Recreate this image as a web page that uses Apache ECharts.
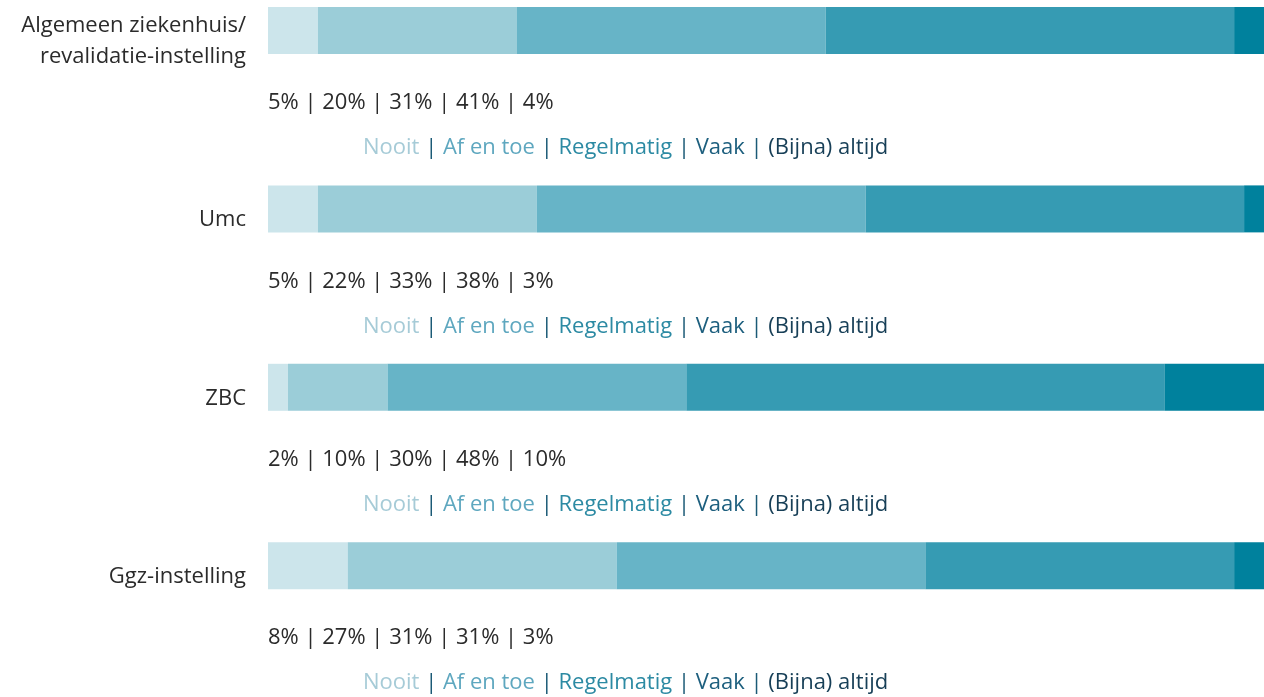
<!DOCTYPE html>
<html lang="nl">
<head>
    <meta charset="UTF-8">
    <title>Frequentie per type instelling</title>
    <script src="https://cdn.jsdelivr.net/npm/echarts@6/dist/echarts.min.js"></script>
    <style>
        body { margin: 0; background: #fff; }
        #chart { width: 1264px; height: 697px; }
    </style>
</head>
<body>
    <div id="chart"></div>
    <script>
        // data
        const rows = ['Algemeen ziekenhuis/\nrevalidatie-instelling', 'Umc', 'ZBC', 'Ggz-instelling'];
        const answers = ['Nooit', 'Af en toe', 'Regelmatig', 'Vaak', '(Bijna) altijd'];
        const nooit = [5, 5, 2, 8];
        const afEnToe = [20, 22, 10, 27];
        const regelmatig = [31, 33, 30, 31];
        const vaak = [41, 38, 48, 31];
        const bijnaAltijd = [4, 3, 10, 3];
        const values = [nooit, afEnToe, regelmatig, vaak, bijnaAltijd];

        const barColors = ['#cce5eb', '#9bcdd8', '#67b4c7', '#369bb3', '#00819d'];
        const textColors = ['#a6cbd7', '#5ea7bf', '#2c8aa3', '#1d5f7e', '#173f57'];
        const sepColor = '#1b5a76';
        const font = '"Open Sans", sans-serif';
        const fs = 22;

        const chart = echarts.init(document.getElementById('chart'));

        const rowStep = 178.4, barTop = 7, barH = 47;
        const grids = [], xAxes = [], yAxes = [], series = [], titles = [];

        const legendRich = { sep: { color: sepColor, fontSize: fs, fontFamily: font } };
        answers.forEach((a, k) => {
            legendRich['a' + k] = { color: textColors[k], fontSize: fs, fontFamily: font };
        });
        const legendText = answers.map((a, k) => '{a' + k + '|' + a + '}').join('{sep| | }');

        rows.forEach((name, i) => {
            const top = barTop + i * rowStep;
            grids.push({ left: 268, right: 0, top: top, height: barH, outerBoundsMode: 'none' });
            xAxes.push({ type: 'value', gridIndex: i, min: 0, max: 100, show: false });
            yAxes.push({
                type: 'category', gridIndex: i, data: [name],
                axisLine: { show: false }, axisTick: { show: false },
                axisLabel: {
                    margin: 22, align: 'right',
                    // empty first line pushes the label a bit below the bar centre
                    formatter: v => '{s| }\n{t|' + v.split('\n').join('}\n{t|') + '}',
                    rich: {
                        s: { lineHeight: 22, fontSize: 10 },
                        t: { fontSize: fs, color: '#2b2b2b', fontFamily: font, lineHeight: 31, align: 'right' }
                    }
                }
            });
            answers.forEach((a, k) => {
                series.push({
                    type: 'bar', name: a, stack: 'row' + i,
                    xAxisIndex: i, yAxisIndex: i,
                    barWidth: barH, clip: true,
                    itemStyle: { color: barColors[k] },
                    data: [values[k][i]],
                    silent: true
                });
            });
            titles.push({
                left: 268, top: top + 85, padding: 0,
                text: values.map(v => v[i] + '%').join(' | '),
                textStyle: { fontSize: fs, fontWeight: 'normal', color: '#2b2b2b', fontFamily: font }
            });
            titles.push({
                left: 363, top: top + 130, padding: 0,
                text: legendText,
                textStyle: { fontSize: fs, fontWeight: 'normal', fontFamily: font, rich: legendRich }
            });
        });

        chart.setOption({
            animation: false,
            title: titles,
            grid: grids,
            xAxis: xAxes,
            yAxis: yAxes,
            series: series
        });
    </script>
</body>
</html>
